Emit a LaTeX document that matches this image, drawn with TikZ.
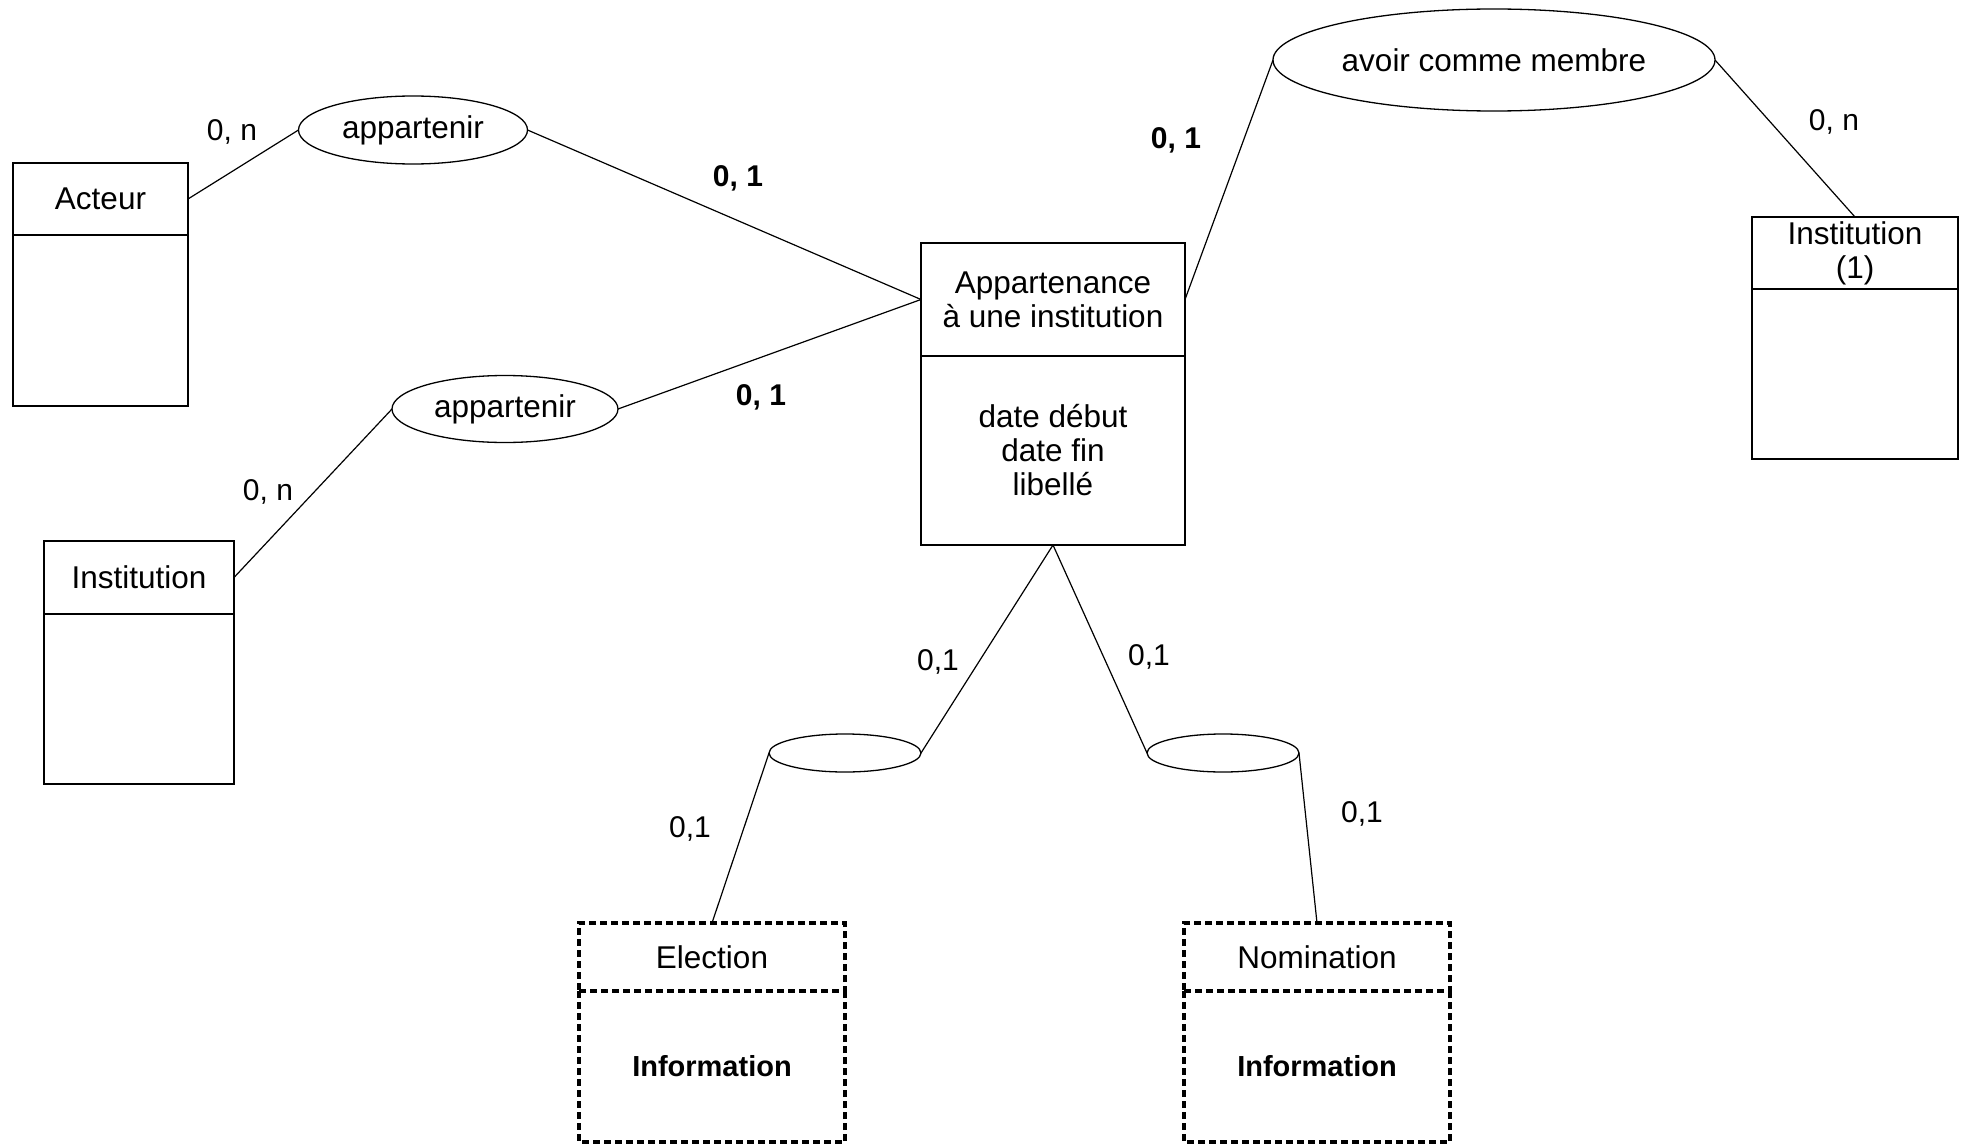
\documentclass[tikz,border=0pt]{standalone}
\usepackage{fontspec}
\setmainfont{Liberation Sans}
\usetikzlibrary{positioning,shapes.geometric}
\tikzset{
entete/.style={rectangle,draw=black,line width=2pt,
outer sep=0pt,inner sep=0pt,align=center},
pointille/.style={draw=black,line width=3.5pt,dash pattern=on 7pt off 4pt},
fictif/.style={entete,pointille},
assoc/.style={ellipse,draw=black,line width=1.3pt,inner sep=0pt,outer sep=0pt},
card/.style={inner sep=0pt,font=\fontsize{30}{34}\selectfont},
lien/.style={line width=1.2pt}
}

\begin{document}
\begin{tikzpicture}[x=1pt,y=-1pt,font=\fontsize{31.5}{34}\selectfont]
\useasboundingbox (0,0) rectangle (1966,1145);

% entites
\node[entete,minimum width=175pt,minimum height=72pt] (act) at (100.5,199) {Acteur};
\node[entete,minimum width=175pt,minimum height=171pt,below=0pt of act] (actB) {};
\node[entete,minimum width=190pt,minimum height=73pt] (inst) at (139,577.5) {Institution};
\node[entete,minimum width=190pt,minimum height=170pt,below=0pt of inst] (instB) {};
\node[entete,minimum width=264pt,minimum height=113pt] (app) at (1053,299.5) {Appartenance\\à une institution};
\node[entete,minimum width=264pt,minimum height=189pt,below=0pt of app] (appB) {date début\\date fin\\libellé};
\node[entete,minimum width=206pt,minimum height=72pt] (inst1) at (1855,253) {Institution\\(1)};
\node[entete,minimum width=206pt,minimum height=170pt,below=0pt of inst1] (inst1B) {};

\node[fictif,minimum width=266pt,minimum height=68pt] (elec) at (712,957) {Election};
\node[entete,draw=none,minimum width=266pt,minimum height=151pt,below=0pt of elec,
font=\fontsize{29}{34}\selectfont\bfseries] (elecB) {Information};
\draw[pointille] (elecB.north west) -- (elecB.south west) -- (elecB.south east) -- (elecB.north east);
\node[fictif,minimum width=266pt,minimum height=68pt] (nomi) at (1317,957) {Nomination};
\node[entete,draw=none,minimum width=266pt,minimum height=151pt,below=0pt of nomi,
font=\fontsize{29}{34}\selectfont\bfseries] (nomiB) {Information};
\draw[pointille] (nomiB.north west) -- (nomiB.south west) -- (nomiB.south east) -- (nomiB.north east);

% associations
\node[assoc,minimum width=229pt,minimum height=68pt] (rel1) at (413,130) {appartenir};
\node[assoc,minimum width=226pt,minimum height=67pt] (rel2) at (505,409) {appartenir};
\node[assoc,minimum width=442pt,minimum height=102pt] (rel3) at (1494,60) {avoir comme membre};
\node[assoc,minimum width=152pt,minimum height=38pt] (rel4) at (845,753) {};
\node[assoc,minimum width=152pt,minimum height=38pt] (rel5) at (1223,753) {};

\draw[lien] (act.east) -- (rel1.west);
\draw[lien] (rel1.east) -- (app.west);
\draw[lien] (inst.east) -- (rel2.west);
\draw[lien] (rel2.east) -- (app.west);
\draw[lien] (app.east) -- (rel3.west);
\draw[lien] (rel3.east) -- (inst1.north);
\draw[lien] (appB.south) -- (rel4.east);
\draw[lien] (appB.south) -- (rel5.west);
\draw[lien] (rel4.west) -- (elec.north);
\draw[lien] (rel5.east) -- (nomi.north);

% cardinalites
\node[card] (c1) at (232,132) {0, n};
\node[card] (c2) at (268,492) {0, n};
\node[card,font=\fontsize{30}{34}\selectfont\bfseries] (c3) at (738,178) {0, 1};
\node[card,font=\fontsize{30}{34}\selectfont\bfseries] (c4) at (761,397) {0, 1};
\node[card,font=\fontsize{30}{34}\selectfont\bfseries] (c5) at (1176,140) {0, 1};
\node[card] (c6) at (1834,122) {0, n};
\node[card] (c7) at (938,662) {0,1};
\node[card] (c8) at (1149,657) {0,1};
\node[card] (c9) at (690,829) {0,1};
\node[card] (c10) at (1362,814) {0,1};
\end{tikzpicture}
\end{document}
